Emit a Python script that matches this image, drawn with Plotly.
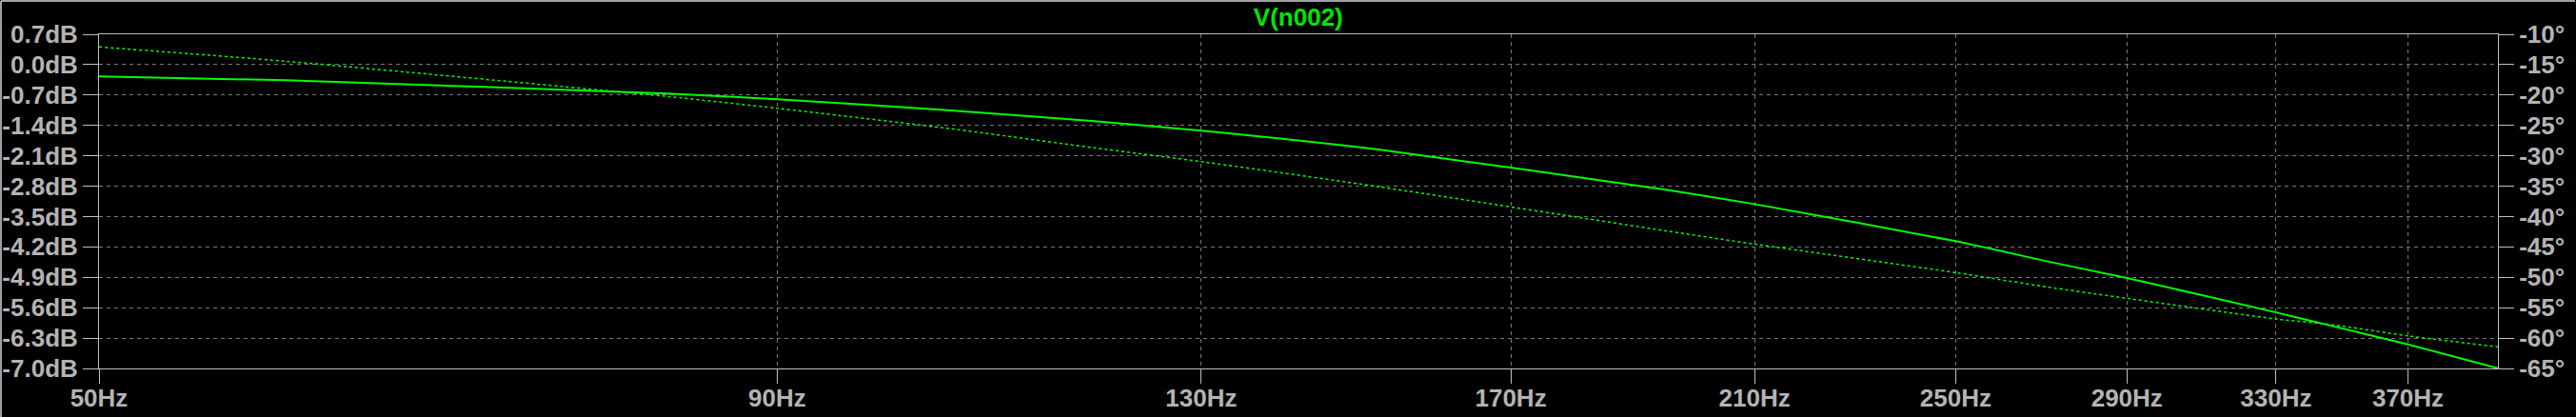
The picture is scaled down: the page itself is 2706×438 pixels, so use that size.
import numpy as np
import plotly.graph_objects as go

# Frequency response of V(n002)
freq_hz = [50, 58.8, 81.8, 90, 104.7, 118.5, 130, 151.8, 194.4, 210, 250, 270.5, 290, 330, 346.4, 370, 400]
mag_db = [-0.272, -0.360, -0.667, -0.799, -1.056, -1.303, -1.522, -1.962, -2.883, -3.213,
          -4.068, -4.529, -4.918, -5.708, -6.021, -6.447, -6.996]
phase_deg = [-12.08, -14.44, -20.23, -22.18, -25.56, -28.70, -30.96, -35.13, -42.34, -44.53,
             -49.23, -51.58, -53.46, -56.86, -57.80, -59.64, -61.46]

x_tick_vals = [50, 90, 130, 170, 210, 250, 290, 330, 370]
x_tick_text = ["50Hz", "90Hz", "130Hz", "170Hz", "210Hz", "250Hz", "290Hz", "330Hz", "370Hz"]
db_tick_vals = [0.7, 0.0, -0.7, -1.4, -2.1, -2.8, -3.5, -4.2, -4.9, -5.6, -6.3, -7.0]
db_tick_text = ["0.7dB", "0.0dB", "-0.7dB", "-1.4dB", "-2.1dB", "-2.8dB", "-3.5dB", "-4.2dB",
                "-4.9dB", "-5.6dB", "-6.3dB", "-7.0dB"]
deg_tick_vals = [-10, -15, -20, -25, -30, -35, -40, -45, -50, -55, -60, -65]
deg_tick_text = [f"{v}°" for v in deg_tick_vals]

GREEN = "#00ff00"
FRAME = "#c0c0c0"
GRID = "#7a7a7a"
LABEL = "#b4b4b4"
FONT = "Liberation Sans"

fig = go.Figure()
fig.add_trace(go.Scatter(x=freq_hz, y=mag_db, mode="lines", name="mag",
                         line=dict(color=GREEN, width=2, shape="spline", smoothing=0.6),
                         showlegend=False))
fig.add_trace(go.Scatter(x=freq_hz, y=phase_deg, mode="lines", name="phase", yaxis="y2",
                         line=dict(color=GREEN, width=1.5, dash="dot", shape="spline", smoothing=0.6),
                         showlegend=False))

tickfont = dict(family=FONT, size=26, color=LABEL, weight="bold")

fig.update_layout(
    width=2706, height=438,
    paper_bgcolor="black", plot_bgcolor="black",
    margin=dict(l=104, r=82, t=36, b=51, autoexpand=False),
    title=dict(text="<b>V(n002)</b>", x=0.504, xanchor="center", y=1 - 18 / 438, yanchor="middle",
               yref="container", font=dict(family=FONT, size=26, color="#00e600")),
    xaxis=dict(type="log", range=[np.log10(50), np.log10(400)],
               tickvals=x_tick_vals, ticktext=x_tick_text, tickfont=tickfont,
               ticks="outside", ticklen=15, tickcolor=FRAME, tickwidth=1, ticklabelstandoff=-7,
               showgrid=True, gridcolor=GRID, griddash="4px,4px", gridwidth=1,
               showline=True, linecolor=FRAME, linewidth=1, mirror=True, zeroline=False),
    yaxis=dict(range=[-7.0, 0.7], tickvals=db_tick_vals, ticktext=db_tick_text, tickfont=tickfont,
               ticks="outside", ticklen=16, tickcolor=FRAME, tickwidth=1,
               showgrid=True, gridcolor=GRID, griddash="4px,4px", gridwidth=1,
               showline=True, linecolor=FRAME, linewidth=1, mirror=True, zeroline=False),
    yaxis2=dict(range=[-65, -10], tickvals=deg_tick_vals, ticktext=deg_tick_text, tickfont=tickfont,
                overlaying="y", side="right",
                ticks="outside", ticklen=16, tickcolor=FRAME, tickwidth=1,
                showgrid=False, showline=True, linecolor=FRAME, linewidth=1, zeroline=False),
)

# window border (top and left), in paper coordinates relative to the plot area
pw, ph = 2706 - 104 - 82, 438 - 36 - 51
left = (1 - 104) / pw
top = 1 + (36 - 1) / ph
fig.add_shape(type="line", xref="paper", yref="paper", x0=left, x1=1 + 81 / pw, y0=top, y1=top,
              line=dict(color="#a0a0a0", width=2))
fig.add_shape(type="line", xref="paper", yref="paper", x0=left, x1=left, y0=top, y1=-51 / ph,
              line=dict(color="#a0a0a0", width=2))

fig.write_html("out.html", config={"displayModeBar": False},
               post_script="document.body.style.margin='0';document.body.style.background='black';")
